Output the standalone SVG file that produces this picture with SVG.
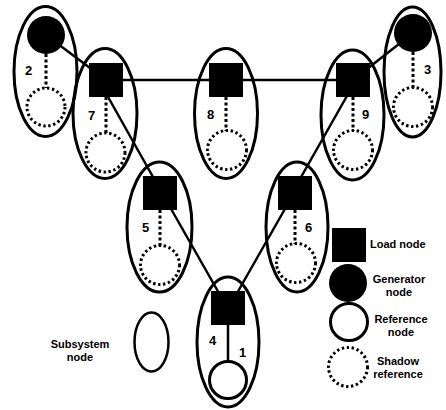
<svg xmlns="http://www.w3.org/2000/svg" width="446" height="410" viewBox="0 0 446 410">
<style>
.sub{fill:none;stroke:#000;stroke-width:3}
.load{fill:#000}
.gen{fill:#000}
.ref{fill:#fff;stroke:#000;stroke-width:3}
.shadow{fill:none;stroke:#000;stroke-width:3;stroke-dasharray:2.4 2.6}
.dot{stroke:#000;stroke-width:3;stroke-dasharray:3 2.5}
.edge{stroke:#000;stroke-width:2.5;fill:none}
.lbl{font-family:"Liberation Sans",Arial,sans-serif;font-weight:bold;font-size:13px;fill:#000}
.leg{font-family:"Liberation Sans",Arial,sans-serif;font-weight:bold;font-size:11px;fill:#000;text-anchor:middle}
</style>
<rect width="446" height="410" fill="#fff"/>
<g id="connectors">
<line class="edge" x1="46" y1="35" x2="106" y2="80"/>
<line class="edge" x1="106" y1="80" x2="353" y2="80"/>
<line class="edge" x1="353" y1="80" x2="413" y2="33"/>
<line class="edge" x1="103" y1="88" x2="162" y2="193"/>
<line class="edge" x1="356" y1="80" x2="292" y2="193"/>
<line class="edge" x1="162" y1="193" x2="228" y2="309"/>
<line class="edge" x1="294" y1="193" x2="228" y2="309"/>
</g>
<g id="node2">
<ellipse class="sub" cx="45.5" cy="71.5" rx="31.5" ry="65"/>
<line class="dot" x1="46" y1="54" x2="46" y2="88"/>
<circle class="gen" cx="46" cy="35" r="19"/>
<circle class="shadow" cx="46" cy="107" r="19"/>
<text class="lbl" x="25" y="75">2</text>
</g>
<g id="node7">
<ellipse class="sub" cx="105" cy="113.5" rx="32" ry="65"/>
<line class="dot" x1="106" y1="97" x2="106" y2="133"/>
<rect class="load" x="89" y="63" width="34" height="34"/>
<circle class="shadow" cx="105.5" cy="152.5" r="19.5"/>
<text class="lbl" x="88" y="120">7</text>
</g>
<g id="node8">
<ellipse class="sub" cx="226" cy="113.5" rx="31.5" ry="65"/>
<line class="dot" x1="226" y1="97" x2="226" y2="131"/>
<rect class="load" x="209" y="63" width="34" height="34"/>
<circle class="shadow" cx="227" cy="150" r="19.5"/>
<text class="lbl" x="207" y="119">8</text>
</g>
<g id="node9">
<ellipse class="sub" cx="352.5" cy="115" rx="31.5" ry="65"/>
<line class="dot" x1="353" y1="97" x2="353" y2="131"/>
<rect class="load" x="336" y="63" width="34" height="34"/>
<circle class="shadow" cx="353" cy="150" r="19.5"/>
<text class="lbl" x="362" y="119">9</text>
</g>
<g id="node3">
<ellipse class="sub" cx="412.5" cy="72" rx="28.5" ry="65"/>
<line class="dot" x1="413" y1="52" x2="413" y2="88"/>
<circle class="gen" cx="413" cy="33" r="19"/>
<circle class="shadow" cx="413" cy="107" r="19.5"/>
<text class="lbl" x="424" y="74">3</text>
</g>
<g id="node5">
<ellipse class="sub" cx="159.5" cy="227" rx="32.5" ry="65"/>
<line class="dot" x1="160" y1="210" x2="160" y2="246"/>
<rect class="load" x="143" y="176" width="34" height="34"/>
<circle class="shadow" cx="160" cy="265" r="19.5"/>
<text class="lbl" x="142" y="232">5</text>
</g>
<g id="node6">
<ellipse class="sub" cx="297" cy="227" rx="31" ry="65"/>
<line class="dot" x1="295" y1="210" x2="295" y2="244"/>
<rect class="load" x="278" y="176" width="34" height="34"/>
<circle class="shadow" cx="296" cy="263" r="19.5"/>
<text class="lbl" x="305" y="232">6</text>
</g>
<g id="node4">
<ellipse class="sub" cx="228" cy="342" rx="31" ry="65"/>
<line class="edge" x1="228" y1="324" x2="228" y2="361"/>
<rect class="load" x="211" y="291" width="34" height="34"/>
<circle class="ref" cx="228" cy="380" r="18.5"/>
<text class="lbl" x="209" y="345">4</text>
<text class="lbl" x="239" y="357">1</text>
</g>
<g id="legend">
<ellipse class="sub" cx="151.5" cy="342" rx="17" ry="29.5" style="stroke-width:2.5"/>
<text class="leg" x="80" y="348">Subsystem</text>
<text class="leg" x="80" y="361">node</text>
<rect class="load" x="332" y="228" width="34" height="34"/>
<text class="leg" x="370" y="248" style="text-anchor:start">Load node</text>
<circle class="gen" cx="348" cy="283" r="19"/>
<text class="leg" x="399" y="283">Generator</text>
<text class="leg" x="399" y="296">node</text>
<circle class="ref" cx="349" cy="322" r="18.5"/>
<text class="leg" x="401" y="323">Reference</text>
<text class="leg" x="401" y="336">node</text>
<circle class="shadow" cx="348" cy="367" r="19.5"/>
<text class="leg" x="398" y="365">Shadow</text>
<text class="leg" x="398" y="378">reference</text>
</g>
</svg>
